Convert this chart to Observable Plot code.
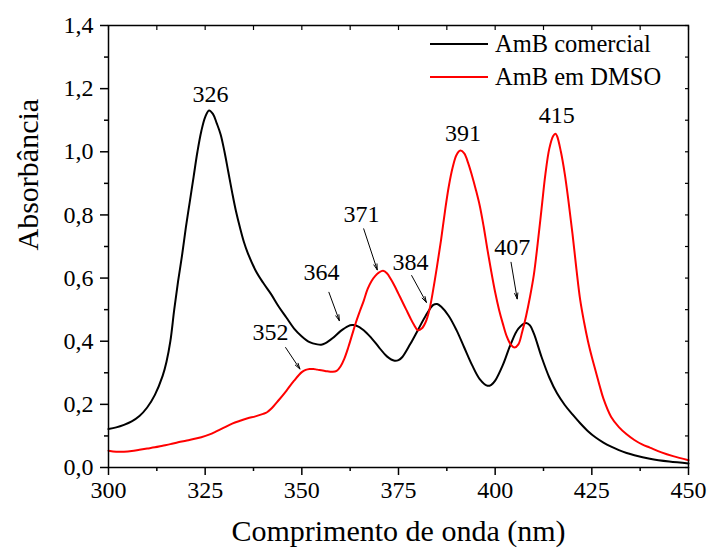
<!DOCTYPE html>
<html lang="pt"><head><meta charset="utf-8">
<script src="https://cdn.jsdelivr.net/npm/d3@7"></script>
<script src="https://cdn.jsdelivr.net/npm/@observablehq/plot@0.6"></script>
<style>
body{margin:0;background:#fff}
#wrap{position:relative;width:709px;height:553px;font-family:'Liberation Serif',Tinos,'Times New Roman',serif}
#legend{position:absolute;left:430px;top:27px;font-family:'Liberation Serif',Tinos,'Times New Roman',serif;font-size:24.5px;color:#000}
.row{display:flex;align-items:center;height:33px}
.sw{width:58px;height:2px;margin-right:7px}
#chart svg, #chart svg text{font-family:'Liberation Serif',Tinos,'Times New Roman',serif !important}
</style></head><body>
<div id="wrap"><div id="chart"></div><div id="legend"></div></div>
<script>
// ---- data ----
const seriesNames = ["AmB comercial", "AmB em DMSO"];
const seriesColors = ["#000000", "#ff0000"];

const wlCommercial = [300,302,304,306,308,310,312,314,315,316,317,318,319,320,321,322,323,324,325,326,327,328,329,330,331,332,333,334,335,336,338,340,342,344,346,348,350,352,354,355,356,358,360,362,363,364,366,368,370,372,374,375,376,378,380,382,384,385,386,388,390,392,394,396,398,399,400,402,404,406,408,409,410,412,414,416,418,420,422,424,426,428,430,432,434,436,440,445,450];
const absCommercial = [0.122,0.127,0.135,0.146,0.163,0.19,0.23,0.29,0.335,0.40,0.50,0.59,0.67,0.76,0.84,0.92,1.00,1.065,1.11,1.131,1.12,1.09,1.055,1.0,0.935,0.87,0.81,0.76,0.715,0.68,0.625,0.585,0.55,0.51,0.475,0.44,0.415,0.397,0.39,0.389,0.393,0.41,0.432,0.448,0.451,0.45,0.435,0.41,0.38,0.352,0.338,0.34,0.35,0.39,0.435,0.48,0.515,0.518,0.51,0.48,0.435,0.38,0.325,0.28,0.259,0.262,0.275,0.325,0.39,0.44,0.458,0.45,0.425,0.35,0.285,0.235,0.198,0.168,0.14,0.115,0.095,0.079,0.066,0.055,0.046,0.039,0.028,0.019,0.013];

const wlDMSO = [300,302,304,306,308,310,312,314,316,318,320,322,324,326,328,330,332,334,336,338,340,341,342,344,346,348,350,351,352,353,354,356,358,359,360,361,362,363,364,365,366,367,368,369,370,371,372,373,374,375,376,377,378,379,380,381,382,383,384,385,386,387,388,389,390,391,392,393,394,395,396,397,398,399,400,401,402,403,404,405,406,407,408,409,410,411,412,413,414,415,415.6,416,417,418,419,420,421,422,423,424,425,426,427,428,430,432,434,436,438,440,443,446,450];
const absDMSO = [0.053,0.050,0.050,0.052,0.056,0.060,0.064,0.069,0.074,0.080,0.085,0.090,0.096,0.104,0.115,0.127,0.139,0.148,0.156,0.162,0.170,0.175,0.185,0.213,0.243,0.275,0.302,0.309,0.312,0.312,0.310,0.306,0.303,0.306,0.32,0.345,0.38,0.42,0.46,0.495,0.528,0.565,0.59,0.607,0.618,0.623,0.615,0.597,0.575,0.55,0.525,0.50,0.475,0.452,0.435,0.44,0.46,0.50,0.565,0.64,0.72,0.81,0.89,0.95,0.99,1.004,0.995,0.965,0.925,0.88,0.83,0.765,0.69,0.62,0.555,0.50,0.455,0.415,0.39,0.38,0.39,0.43,0.48,0.54,0.61,0.71,0.82,0.93,1.01,1.05,1.057,1.05,1.0,0.93,0.84,0.74,0.63,0.53,0.46,0.40,0.35,0.305,0.26,0.218,0.16,0.128,0.105,0.087,0.073,0.063,0.048,0.036,0.023];

// peak annotations: label text, label position, arrow start/end (data units)
const peakLabels = ["326","391","415","371","364","384","407","352"];
const labelX = [326.4,391.7,415.9,365.4,355.1,378.1,404.4,341.9];
const labelY = [1.183,1.059,1.115,0.803,0.618,0.650,0.697,0.428];
const arrowLabels = ["371","364","384","407","352"];
const arrowX1 = [366.0,357.0,378.4,404.1,345.8];
const arrowY1 = [0.756,0.555,0.608,0.650,0.380];
const arrowX2 = [369.5,359.7,382.2,405.7,349.5];
const arrowY2 = [0.626,0.465,0.523,0.534,0.312];

const xMajorTicks = [300,325,350,375,400,425,450];
const xMinorTicks = [312.5,337.5,362.5,387.5,412.5,437.5];
const yMajorTicks = [0,0.2,0.4,0.6,0.8,1.0,1.2,1.4];
const yMinorTicks = [0.1,0.3,0.5,0.7,0.9,1.1,1.3];

const xLabel = "Comprimento de onda (nm)";
const yLabel = "Absorbância";

// ---- build ----
const rows = [];
wlCommercial.forEach((w,i)=>rows.push({wl:w, a:absCommercial[i], s:seriesNames[0]}));
wlDMSO.forEach((w,i)=>rows.push({wl:w, a:absDMSO[i], s:seriesNames[1]}));
const labels = peakLabels.map((t,i)=>({t, x:labelX[i], y:labelY[i]}));
const arrows = arrowLabels.map((t,i)=>({x1:arrowX1[i],y1:arrowY1[i],x2:arrowX2[i],y2:arrowY2[i]}));
const fmtY = d => d.toFixed(1).replace(".", ",");
const serif = "Liberation Serif";

const chart = Plot.plot({
  width: 709, height: 553,
  marginLeft: 108, marginRight: 21, marginTop: 25, marginBottom: 86,
  style: {fontFamily: serif, background: "#fff", color: "#000"},
  x: {domain: [300,450]},
  y: {domain: [0,1.4]},
  color: {domain: seriesNames, range: seriesColors},
  marks: [
    Plot.line(rows, {x:"wl", y:"a", z:"s", stroke:"s", strokeWidth:2, curve:"catmull-rom"}),
    Plot.arrow(arrows, {x1:"x1", y1:"y1", x2:"x2", y2:"y2", stroke:"#000", strokeWidth:1, headLength:9, headAngle:32}),
    Plot.text(labels, {x:"x", y:"y", text:"t", fontSize:24, fill:"#000", fontFamily:serif}),
    Plot.axisX({ticks:xMajorTicks, tickSize:8, tickPadding:5, fontSize:24, fontFamily:serif, strokeWidth:1.5, label:null, tickFormat:d=>String(d)}),
    Plot.axisX({ticks:xMinorTicks, tickSize:4, strokeWidth:1.5, label:null, tickFormat:()=>""}),
    Plot.axisX({anchor:"top", ticks:[...xMajorTicks,...xMinorTicks], tickSize:-4, strokeWidth:1.2, label:null, tickFormat:()=>""}),
    Plot.axisY({ticks:yMajorTicks, tickSize:8, tickPadding:7, fontSize:24, fontFamily:serif, strokeWidth:1.5, label:null, tickFormat:fmtY}),
    Plot.axisY({ticks:yMinorTicks, tickSize:4, strokeWidth:1.5, label:null, tickFormat:()=>""}),
    Plot.axisY({anchor:"right", ticks:[...yMajorTicks,...yMinorTicks], tickSize:-4, strokeWidth:1.2, label:null, tickFormat:()=>""}),
    Plot.frame({stroke:"#000", strokeWidth:1.5}),
    Plot.text([xLabel], {frameAnchor:"bottom", dy:73, dx:0, fontSize:30, fill:"#000", fontFamily:serif}),
    Plot.text([yLabel], {frameAnchor:"left", dx:-80, dy:4, rotate:-90, fontSize:30, fill:"#000", fontFamily:serif})
  ]
});
document.getElementById("chart").appendChild(chart);

const lg = document.getElementById("legend");
seriesNames.forEach((n,i)=>{
  const r = document.createElement("div"); r.className="row";
  const sw = document.createElement("div"); sw.className="sw"; sw.style.background=seriesColors[i];
  const t = document.createElement("span"); t.textContent = n;
  t.style.fontFamily = serif;
  r.appendChild(sw); r.appendChild(t); lg.appendChild(r);
});
</script>
</body></html>
